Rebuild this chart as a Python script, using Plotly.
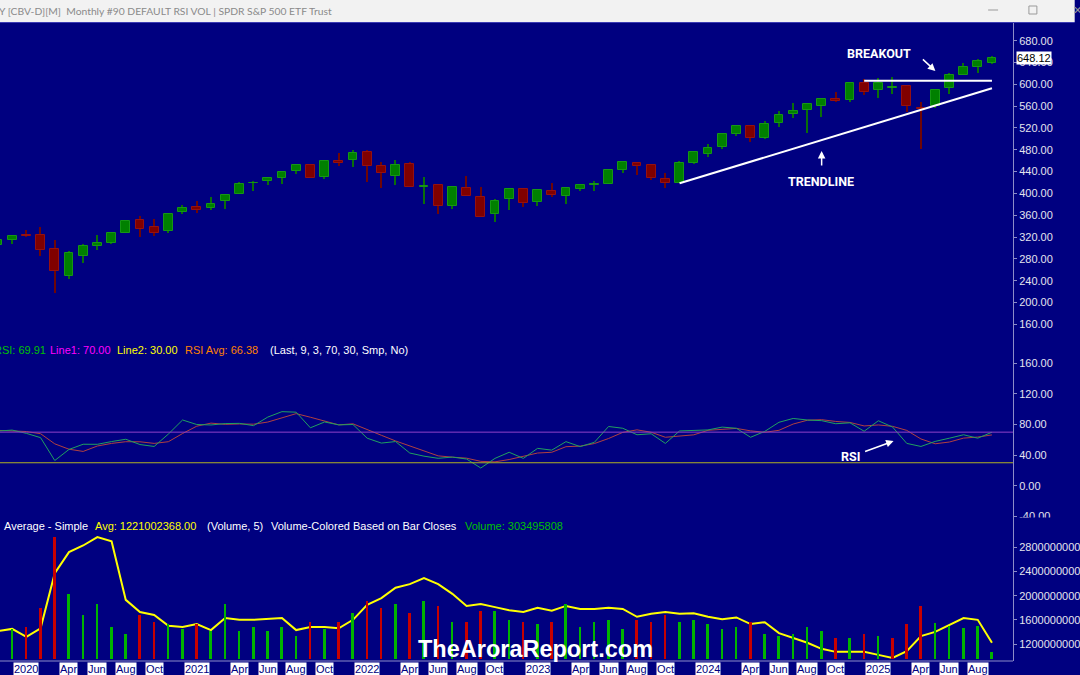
import plotly.graph_objects as go

# ---------------- data (SPY monthly, Nov 2019 - Sep 2025) ----------------
months = [
    "2019-11", "2019-12",
    "2020-01", "2020-02", "2020-03", "2020-04", "2020-05", "2020-06", "2020-07", "2020-08", "2020-09", "2020-10", "2020-11", "2020-12",
    "2021-01", "2021-02", "2021-03", "2021-04", "2021-05", "2021-06", "2021-07", "2021-08", "2021-09", "2021-10", "2021-11", "2021-12",
    "2022-01", "2022-02", "2022-03", "2022-04", "2022-05", "2022-06", "2022-07", "2022-08", "2022-09", "2022-10", "2022-11", "2022-12",
    "2023-01", "2023-02", "2023-03", "2023-04", "2023-05", "2023-06", "2023-07", "2023-08", "2023-09", "2023-10", "2023-11", "2023-12",
    "2024-01", "2024-02", "2024-03", "2024-04", "2024-05", "2024-06", "2024-07", "2024-08", "2024-09", "2024-10", "2024-11", "2024-12",
    "2025-01", "2025-02", "2025-03", "2025-04", "2025-05", "2025-06", "2025-07", "2025-08", "2025-09",
]
opens = [304.9, 314.6,
         323.5, 323.4, 298.2, 247.9, 285.3, 303.6, 309.6, 328.3, 350.4, 337.7, 330.2, 365.6,
         375.3, 373.7, 385.6, 398.4, 419.4, 422.6, 428.9, 440.3, 452.6, 431.0, 460.3, 461.6,
         476.3, 450.7, 432.0, 453.3, 412.1, 415.2, 376.6, 409.2, 392.9, 361.8, 390.1, 408.8,
         384.4, 405.2, 395.4, 408.9, 415.5, 418.1, 442.9, 456.3, 452.1, 426.9, 419.2, 455.8,
         472.2, 484.6, 509.0, 523.8, 501.4, 529.0, 545.6, 552.6, 560.5, 573.4, 571.3, 603.0,
         589.4, 592.7, 596.2, 557.5, 560.4, 592.7, 617.4, 631.6, 638.9]
highs = [315.5, 323.8,
         332.9, 339.1, 313.8, 293.8, 306.8, 323.4, 327.2, 351.3, 358.8, 354.0, 364.4, 378.5,
         385.9, 394.2, 398.0, 420.7, 422.8, 428.8, 441.8, 453.1, 454.1, 459.6, 473.5, 479.0,
         480.0, 458.1, 462.1, 457.8, 429.7, 417.4, 413.0, 431.7, 411.7, 389.5, 407.7, 410.5,
         408.2, 418.3, 409.7, 415.9, 422.6, 444.3, 459.4, 457.3, 453.7, 438.1, 459.6, 477.6,
         490.2, 510.1, 524.6, 524.4, 533.1, 550.3, 565.2, 564.2, 574.7, 586.1, 603.4, 609.1,
         610.8, 613.2, 597.3, 567.1, 591.7, 620.9, 639.8, 646.5, 652.2]
lows = [304.7, 307.1,
        320.4, 285.5, 218.3, 243.9, 273.0, 296.7, 307.9, 327.7, 319.8, 322.6, 327.2, 362.0,
        364.8, 370.4, 371.9, 398.2, 404.0, 414.7, 416.8, 436.1, 428.8, 426.4, 450.4, 448.9,
        420.8, 410.6, 415.1, 411.2, 380.5, 362.2, 371.0, 395.0, 357.0, 348.1, 368.8, 374.8,
        377.8, 393.6, 380.7, 403.8, 403.7, 416.8, 437.1, 433.0, 425.0, 409.2, 418.6, 453.3,
        466.4, 482.0, 504.9, 493.9, 499.6, 522.6, 537.4, 510.3, 539.4, 567.9, 567.9, 580.9,
        575.4, 582.4, 549.7, 481.8, 556.0, 581.8, 616.6, 620.5, 637.0]
closes = [314.3, 321.9,
          321.7, 296.3, 257.8, 290.5, 304.3, 308.4, 326.5, 349.3, 334.9, 326.5, 362.1, 373.9,
          370.1, 380.4, 396.3, 417.3, 420.0, 428.1, 438.5, 451.6, 429.1, 459.3, 455.6, 475.0,
          449.9, 436.6, 451.6, 412.0, 412.9, 377.3, 412.0, 395.2, 357.2, 386.2, 407.7, 382.4,
          406.5, 396.3, 409.4, 415.9, 417.9, 443.3, 457.8, 450.4, 427.5, 418.2, 456.4, 475.3,
          482.9, 508.1, 523.1, 502.0, 527.4, 544.2, 550.8, 563.7, 573.8, 568.6, 602.6, 586.1,
          601.8, 594.2, 559.4, 554.5, 589.4, 617.9, 632.1, 643.3, 648.1]

# RSI (9) and its 3-bar average
rsi = [71.4, 72.7,
       68.4, 62.8, 32.9, 47.4, 54.2, 54.1, 57.7, 60.7, 53.8, 51.3, 67.5, 85.9,
       80.0, 79.4, 81.2, 81.5, 78.5, 89.7, 96.8, 96.1, 75.7, 83.3, 79.5, 80.0,
       62.1, 55.7, 57.7, 42.7, 38.6, 35.8, 37.4, 34.9, 23.1, 35.7, 43.7, 35.7,
       48.8, 46.5, 57.6, 51.1, 56.7, 77.4, 75.1, 66.6, 67.9, 55.3, 71.6, 72.7,
       72.9, 76.6, 75.1, 63.3, 71.0, 82.9, 87.9, 85.9, 85.0, 81.0, 82.2, 71.2,
       84.9, 76.7, 55.3, 51.3, 57.9, 62.1, 66.6, 62.1, 69.91]
rsi_avg = [72.3, 71.6,
           70.8, 68.0, 54.7, 47.7, 44.8, 51.9, 55.3, 57.5, 57.4, 55.3, 57.5, 68.2,
           77.8, 81.8, 80.2, 80.7, 80.4, 83.2, 88.3, 94.2, 89.5, 85.0, 79.5, 80.9,
           73.9, 65.9, 58.5, 52.0, 46.3, 39.0, 37.3, 36.0, 31.8, 31.2, 34.2, 38.4,
           42.7, 43.7, 51.0, 51.7, 55.1, 61.7, 69.7, 73.0, 69.9, 63.3, 64.9, 66.5,
           72.4, 74.1, 74.9, 71.7, 69.8, 72.4, 80.6, 85.6, 86.3, 84.0, 82.7, 78.1,
           79.4, 77.6, 72.3, 61.1, 54.8, 57.1, 62.2, 63.6, 66.38]
rsi_line1 = 70
rsi_line2 = 30

volume = [1.00e9, 1.30e9,
          1.40e9, 2.20e9, 5.30e9, 2.80e9, 1.90e9, 2.40e9, 1.40e9, 1.10e9, 1.90e9, 1.60e9, 1.50e9, 1.30e9,
          1.50e9, 1.20e9, 2.40e9, 1.20e9, 1.40e9, 1.20e9, 1.40e9, 1.00e9, 1.60e9, 1.30e9, 1.60e9, 2.00e9,
          2.50e9, 2.20e9, 2.40e9, 2.00e9, 2.50e9, 2.30e9, 1.60e9, 1.60e9, 2.10e9, 2.10e9, 1.70e9, 1.60e9,
          1.50e9, 1.60e9, 2.40e9, 1.40e9, 1.60e9, 1.70e9, 1.30e9, 1.70e9, 1.60e9, 1.90e9, 1.60e9, 1.70e9,
          1.50e9, 1.30e9, 1.40e9, 1.60e9, 1.10e9, 1.00e9, 1.10e9, 1.40e9, 1.20e9, 0.90e9, 0.90e9, 1.10e9,
          1.00e9, 0.90e9, 1.50e9, 2.30e9, 1.55e9, 1.45e9, 1.35e9, 1.45e9, 303495808]
volume_avg = [1.415e9, 1.45e9,
              1.32e9, 1.46e9, 2.37e9, 2.72e9, 2.83e9, 2.97e9, 2.90e9, 1.93e9, 1.73e9, 1.68e9, 1.50e9, 1.48e9,
              1.53e9, 1.43e9, 1.63e9, 1.60e9, 1.60e9, 1.61e9, 1.63e9, 1.43e9, 1.48e9, 1.48e9, 1.46e9, 1.60e9,
              1.85e9, 1.96e9, 2.13e9, 2.19e9, 2.29e9, 2.19e9, 2.03e9, 1.83e9, 1.86e9, 1.81e9, 1.76e9, 1.73e9,
              1.80e9, 1.75e9, 1.83e9, 1.78e9, 1.78e9, 1.80e9, 1.78e9, 1.65e9, 1.70e9, 1.73e9, 1.70e9, 1.71e9,
              1.65e9, 1.61e9, 1.64e9, 1.53e9, 1.56e9, 1.38e9, 1.30e9, 1.22e9, 1.12e9, 1.07e9, 1.07e9, 1.07e9,
              1.02e9, 0.97e9, 1.08e9, 1.33e9, 1.40e9, 1.51e9, 1.63e9, 1.60e9, 1221002368]

last_price = 648.12
trendline = [("2023-11", 418.5), ("2025-09", 592.7)]
breakout_line = [("2024-12", 606.7), ("2025-09", 606.7)]

tick_months = ["2020-01", "2020-04", "2020-06", "2020-08", "2020-10",
               "2021-01", "2021-04", "2021-06", "2021-08", "2021-10",
               "2022-01", "2022-04", "2022-06", "2022-08", "2022-10",
               "2023-01", "2023-04", "2023-06", "2023-08", "2023-10",
               "2024-01", "2024-04", "2024-06", "2024-08", "2024-10",
               "2025-01", "2025-04", "2025-06", "2025-08"]
tick_labels = ["2020", "Apr", "Jun", "Aug", "Oct",
               "2021", "Apr", "Jun", "Aug", "Oct",
               "2022", "Apr", "Jun", "Aug", "Oct",
               "2023", "Apr", "Jun", "Aug", "Oct",
               "2024", "Apr", "Jun", "Aug", "Oct",
               "2025", "Apr", "Jun", "Aug"]
price_ticks = [160, 200, 240, 280, 320, 360, 400, 440, 480, 520, 560, 600, 640, 680]
rsi_ticks = [-40, 0, 40, 80, 120, 160]
vol_ticks = [1.2e9, 1.6e9, 2.0e9, 2.4e9, 2.8e9]

# ---------------- layout helpers ----------------
W, H = 1080, 675
ML, MR, MT, MB = 0, 62, 22, 14
PW, PH = W - ML - MR, H - MT - MB
BOTTOM = H - MB


def px(x):
    return (x - ML) / PW


def py(y):
    return (BOTTOM - y) / PH


NAVY = "#000080"
AXIS = "#8c8cc8"
TXT = "#e4e4ee"
FONT = "Liberation Sans, Arial, sans-serif"

idx = {m: i for i, m in enumerate(months)}
xs = list(range(len(months)))

up = [c >= o for o, c in zip(opens, closes)]
body_base = [min(o, c) for o, c in zip(opens, closes)]
body_h = [max(abs(c - o), 0.4) for o, c in zip(opens, closes)]
body_col = ["#008000" if u else "#800000" for u in up]
body_line = ["#169616" if u else "#961010" for u in up]
wick_col = ["#0a6e0a" if u else "#6e0606" for u in up]
vol_col = ["#00b400" if (i == 0 or closes[i] >= closes[i - 1]) else "#c80000" for i in range(len(closes))]

fig = go.Figure()

# wicks
fig.add_trace(go.Bar(x=xs, y=[h - l for h, l in zip(highs, lows)], base=lows, width=0.1,
                     marker=dict(color=wick_col, line=dict(width=0)), yaxis="y", hoverinfo="skip"))
# bodies
fig.add_trace(go.Bar(x=xs, y=body_h, base=body_base, width=0.62,
                     marker=dict(color=body_col, line=dict(color=body_line, width=1)), yaxis="y"))

# RSI
fig.add_trace(go.Scatter(x=xs, y=rsi_avg, mode="lines", line=dict(color="#b04040", width=1), yaxis="y2"))
fig.add_trace(go.Scatter(x=xs, y=rsi, mode="lines", line=dict(color="#20a060", width=1), yaxis="y2"))

# volume bars + average
fig.add_trace(go.Bar(x=xs, y=volume, width=0.14, marker=dict(color=vol_col, line=dict(width=0)), yaxis="y4"))
fig.add_trace(go.Scatter(x=xs, y=volume_avg, mode="lines", line=dict(color="#ffff00", width=2), yaxis="y3"))

x0 = 2 - 26.5 / 14.27
x1 = 2 + (PW - 26.5) / 14.27

axis_common = dict(side="right", showline=True, linecolor=AXIS, linewidth=1, ticks="outside", ticklen=3,
                   tickcolor=AXIS, showgrid=False, zeroline=False, tickfont=dict(family=FONT, size=11, color=TXT),
                   fixedrange=True)

k_price = (324.3 - 40.7) / 520.0
price_rng = [680 - (338 - 40.7) / k_price, 680 + (40.7 - MT) / k_price]
k_rsi = (515.7 - 362.7) / 200.0
rsi_rng = [-(517 - 485.7) / k_rsi, (485.7 - 338) / k_rsi]
k_vol = (644 - 547.3) / 1.6e9
vol_rng = [1.2e9 - (BOTTOM - 644) / k_vol, 2.8e9 + (547.3 - 517) / k_vol]
s_bar = 43.4e6
volbar_rng = [-(BOTTOM - 659) * s_bar, (659 - 517) * s_bar]

fig.update_layout(
    width=W, height=H, margin=dict(l=ML, r=MR, t=MT, b=MB),
    paper_bgcolor=NAVY, plot_bgcolor=NAVY, showlegend=False, barmode="overlay", bargap=0,
    xaxis=dict(range=[x0, x1], showticklabels=False, showgrid=False, zeroline=False, showline=False,
               ticks="", anchor="y3", fixedrange=True),
    yaxis=dict(domain=[py(338), 1], range=price_rng, tickvals=price_ticks,
               ticktext=[f"{v:.2f}" for v in price_ticks], **axis_common),
    yaxis2=dict(domain=[py(517), py(338)], range=rsi_rng, tickvals=rsi_ticks,
                ticktext=[f"{v:.2f}" for v in rsi_ticks], **axis_common),
    yaxis3=dict(domain=[0, py(517)], range=vol_rng, tickvals=vol_ticks,
                ticktext=[f"{int(v)}" for v in vol_ticks], **axis_common),
    yaxis4=dict(overlaying="y3", range=volbar_rng, visible=False, fixedrange=True),
)

shapes = []
# title bar
shapes.append(dict(type="rect", xref="paper", yref="paper", x0=px(0), x1=px(W), y0=py(MT), y1=py(0),
                   fillcolor="#f2f2f2", line=dict(width=0), layer="below"))
shapes.append(dict(type="line", xref="paper", yref="paper", x0=px(0), x1=px(W), y0=py(MT + 0.5), y1=py(MT + 0.5),
                   line=dict(color="#3c3cb4", width=1)))
# window controls
shapes.append(dict(type="line", xref="paper", yref="paper", x0=px(993), x1=px(1003), y0=py(10), y1=py(10),
                   line=dict(color="#9a9a9a", width=1)))
shapes.append(dict(type="rect", xref="paper", yref="paper", x0=px(1034), x1=px(1042), y0=py(14), y1=py(6),
                   line=dict(color="#9a9a9a", width=1)))
# RSI reference lines
for lv, col in [(rsi_line1, "#9040c8"), (rsi_line2, "#b0b020")]:
    shapes.append(dict(type="line", xref="paper", yref="y2", x0=0, x1=1, y0=lv, y1=lv,
                       line=dict(color=col, width=1)))
# trend / breakout lines
for pts in (trendline, breakout_line):
    shapes.append(dict(type="line", xref="x", yref="y", x0=idx[pts[0][0]], y0=pts[0][1],
                       x1=idx[pts[1][0]], y1=pts[1][1], line=dict(color="white", width=2)))
# bottom border of volume panel
shapes.append(dict(type="line", xref="paper", yref="paper", x0=0, x1=1, y0=0, y1=0,
                   line=dict(color=AXIS, width=1)))
# hide the lower half of the cut "-40.00" label
shapes.append(dict(type="rect", xref="paper", yref="paper", x0=px(1019.5), x1=px(W), y0=py(523), y1=py(517.5),
                   fillcolor=NAVY, line=dict(width=0), layer="above"))

ann = []


def text(x, y, s, color, size=11, family=FONT, anchor="left", **kw):
    ann.append(dict(xref="paper", yref="paper", x=px(x), y=py(y), text=s, showarrow=False,
                    xanchor=anchor, yanchor="middle", font=dict(family=family, size=size, color=color), **kw))


# title bar text
text(-3, 10.5, "Y [CBV-D][M]\u00a0\u00a0Monthly #90 DEFAULT RSI VOL | SPDR S&amp;P 500 ETF Trust", "#8a8a8a",
     size=10.3, family="Lato, Noto Sans, sans-serif")
text(1076, 10, "\u2715", "#9a9a9a", size=11, anchor="left")

# RSI header
text(-8.5, 349.5, f"RSI: {rsi[-1]:.2f}", "#00c000")
text(48, 349.5, f"Line1: {rsi_line1:.2f}", "#ff00ff")
text(116, 349.5, f"Line2: {rsi_line2:.2f}", "#ffff00")
text(184, 349.5, f"RSI Avg: {rsi_avg[-1]:.2f}", "#ff8000")
text(269, 349.5, "(Last, 9, 3, 70, 30, Smp, No)", "#ffffff")

# volume header
text(2, 526, "Average - Simple", "#ffffff")
text(93, 526, f"Avg: {volume_avg[-1]:.2f}", "#ffff00")
text(206, 526, "(Volume, 5)", "#ffffff")
text(270, 526, "Volume-Colored Based on Bar Closes", "#ffffff")
text(465, 526, f"Volume: {int(volume[-1])}", "#00c000")

# last price box
ann.append(dict(xref="paper", yref="y", x=px(1021.5), y=last_price, text=f"{last_price:.2f}", showarrow=False,
                xanchor="left", yanchor="middle", bgcolor="white", borderpad=0,
                font=dict(family=FONT, size=11, color="black")))

# x-axis labels (white boxes)
for m, lab in zip(tick_months, tick_labels):
    ann.append(dict(xref="x", yref="paper", x=idx[m], y=py(669), text=lab, showarrow=False,
                    xanchor="center", yanchor="middle", bgcolor="white", borderpad=0,
                    font=dict(family=FONT, size=11, color=NAVY)))

# call-outs
CALL = "Roboto, sans-serif"
text(883, 54, "<b>BREAKOUT</b>", "white", size=12.5, family=CALL, anchor="center")
text(825.5, 181.5, "<b>TRENDLINE</b>", "white", size=12.5, family=CALL, anchor="center")
text(855, 456, "<b>RSI</b>", "white", size=12.5, family=CALL, anchor="center")


def arrow(hx, hy, tx, ty):
    ann.append(dict(xref="paper", yref="paper", x=px(hx), y=py(hy), ax=tx - hx, ay=ty - hy, text="",
                    showarrow=True, arrowhead=2, arrowsize=1, arrowwidth=1.5, arrowcolor="white"))


arrow(940, 71, 926, 58)
arrow(825.7, 151, 825.7, 167)
arrow(898, 441, 868, 452)

# watermark
text(538.5, 649, "<b>TheAroraReport.com</b>", "white", size=23.5, anchor="center")

fig.update_layout(shapes=shapes, annotations=ann)
fig.write_html("out.html", config={"displayModeBar": False},
               post_script="document.body.style.margin='0';document.body.style.overflow='hidden';")
